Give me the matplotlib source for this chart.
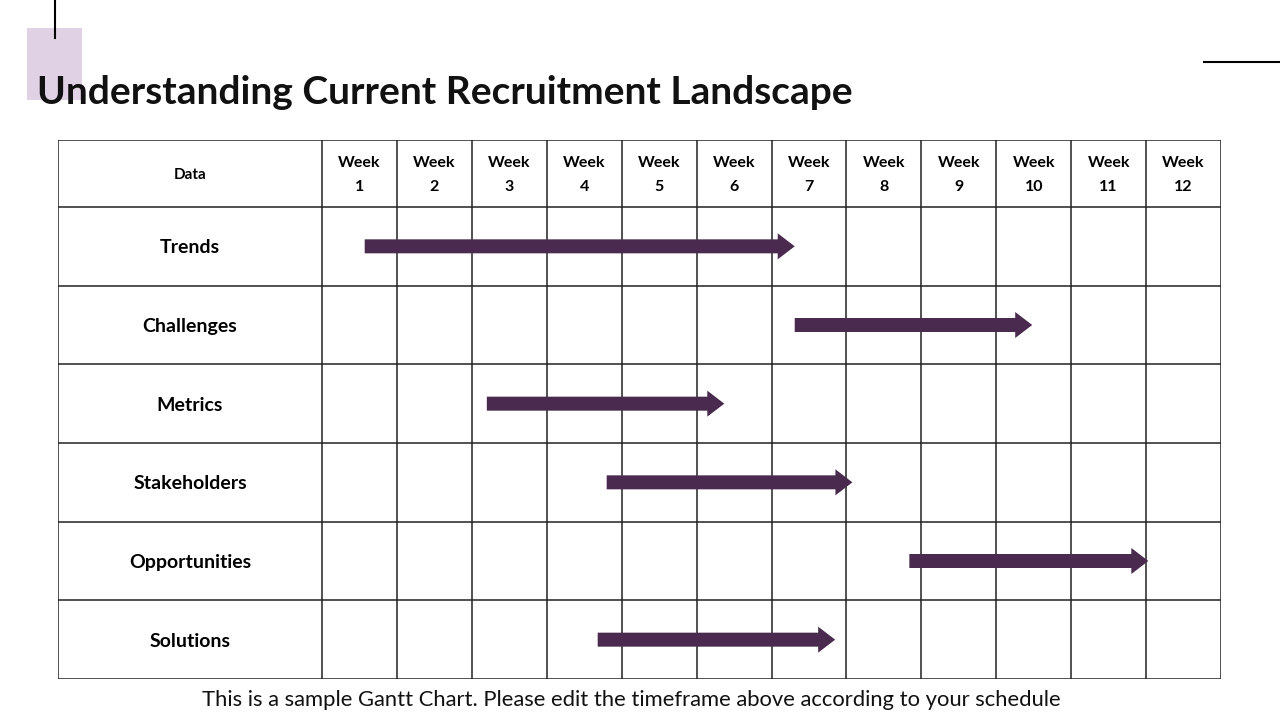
import matplotlib
matplotlib.use("Agg")
import matplotlib.pyplot as plt
from matplotlib.patches import Polygon, Rectangle
from matplotlib.lines import Line2D

plt.rcParams['font.family'] = ['Lato', 'DejaVu Sans']

title = "Understanding Current Recruitment Landscape"
footer = "This is a sample Gantt Chart. Please edit the timeframe above according to your schedule"
header_label = "Data"
weeks = [f"Week\n{i}" for i in range(1, 13)]
tasks = ["Trends", "Challenges", "Metrics", "Stakeholders", "Opportunities", "Solutions"]
starts = [0.57, 6.31, 2.20, 3.80, 7.84, 3.68]
ends = [6.31, 9.48, 5.37, 7.08, 11.03, 6.85]

W, H = 1280, 720
fig = plt.figure(figsize=(12.8, 7.2), dpi=100)

# decorations (full-figure pixel axes)
bg = fig.add_axes([0, 0, 1, 1])
bg.set_xlim(0, W); bg.set_ylim(H, 0); bg.axis('off')
bg.add_patch(Rectangle((27, 28), 55, 72, color='#e1d1e4', lw=0))
bg.add_line(Line2D([55, 55], [0, 38], color='black', lw=1.5))
bg.add_line(Line2D([1204, 1280], [62, 62], color='black', lw=1.5))
bg.text(37, 93, title, fontsize=28, fontweight='bold', va='center', ha='left', color='#111111')
bg.text(631, 700, footer, fontsize=15.8, va='center', ha='center', color='#111111')

# table axes
left, right, top, bottom = 58, 1221, 140, 679
ax = fig.add_axes([left / W, 1 - bottom / H, (right - left) / W, (bottom - top) / H])
colw = (right - 322) / 12.0
label_w = (322 - left) / colw
rowh = (bottom - 207) / 6.0
head_h = (207 - top) / rowh
ax.set_xlim(-label_w, 12)
ax.set_ylim(6, -head_h)
ax.axis('off')

lc = '#222222'
lw = 1.1
# horizontal lines
for y in [-head_h] + list(range(7)):
    ax.plot([-label_w, 12], [y, y], color=lc, lw=lw, solid_capstyle='butt')
# vertical lines
for x in [-label_w] + list(range(13)):
    ax.plot([x, x], [-head_h, 6], color=lc, lw=lw, solid_capstyle='butt')

ax.text(-label_w / 2, -head_h / 2 + 0.02, header_label, ha='center', va='center', fontsize=11, fontweight='bold')
for i, w in enumerate(weeks):
    ax.text(i + 0.5, -head_h / 2 + 0.02, w, ha='center', va='center', fontsize=11.5, fontweight='bold', linespacing=1.85)
for r, t in enumerate(tasks):
    ax.text(-label_w / 2, r + 0.52, t, ha='center', va='center', fontsize=14, fontweight='bold')

# arrows
col = '#4a2a4f'
sh = 7 / rowh      # shaft half-height
hh = 13 / rowh     # head half-height
hl = 17 / colw     # head length
for r, (s, e) in enumerate(zip(starts, ends)):
    yc = r + 0.5
    pts = [(s, yc - sh), (e - hl, yc - sh), (e - hl, yc - hh), (e, yc),
           (e - hl, yc + hh), (e - hl, yc + sh), (s, yc + sh)]
    ax.add_patch(Polygon(pts, closed=True, color=col, lw=0, zorder=3))

fig.savefig("out.png", dpi=100)
